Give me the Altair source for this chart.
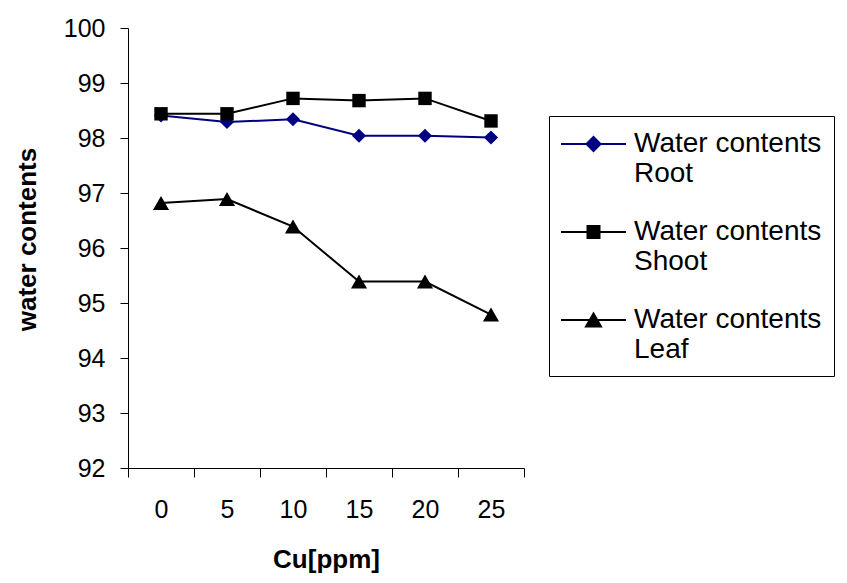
import altair as alt
import pandas as pd

# ---- data ----
cu = ["0", "5", "10", "15", "20", "25"]
root = [98.41, 98.29, 98.34, 98.04, 98.04, 98.01]
shoot = [98.44, 98.44, 98.72, 98.68, 98.72, 98.31]
leaf = [96.82, 96.89, 96.39, 95.39, 95.39, 94.79]
series_names = ["Root", "Shoot", "Leaf"]
series_colors = ["#000080", "#000000", "#000000"]
point_shapes = ["diamond", "square", "triangle-up"]
point_sizes = [200, 180, 260]
y_ticks = [92, 93, 94, 95, 96, 97, 98, 99, 100]

rows = []
for name, vals in zip(series_names, [root, shoot, leaf]):
    for c, v in zip(cu, vals):
        rows.append({"cu": c, "value": v, "series": name})
df = pd.DataFrame(rows)

FONT = "Liberation Sans"

# legend symbols: a line with a (solid-looking) marker on it.
# Unit coordinates are scaled by sqrt(symbolSize)/2 = 15 px.
R = 15.0
HALF_LINE = 32.5


def u(px):
    return round(px / R, 4)


def diamond_path():
    p = f"M-{u(HALF_LINE)},0H{u(HALF_LINE)}"
    for h in [7, 5.5, 4, 2.5, 1]:
        a = u(h)
        p += f"M-{a},0L0,-{a}L{a},0L0,{a}Z"
    return p


def square_path():
    p = f"M-{u(HALF_LINE)},0H{u(HALF_LINE)}"
    for h in [6, 4.5, 3, 1.5, 0.5]:
        a = u(h)
        p += f"M-{a},-{a}H{a}V{a}H-{a}Z"
    return p


def triangle_path():
    p = f"M-{u(HALF_LINE)},0H{u(HALF_LINE)}"
    for f in [1, 0.8, 0.6, 0.4, 0.2]:
        w, h = u(7.5 * f), u(6.5 * f)
        p += f"M0,-{h}L{w},{h}L-{w},{h}Z"
    return p


legend_paths = [diamond_path(), square_path(), triangle_path()]

x_enc = alt.X(
    "cu:O",
    sort=cu,
    scale=alt.Scale(type="band", paddingInner=0, paddingOuter=0),
    axis=alt.Axis(
        title="Cu[ppm]",
        labelAngle=0,
        tickBand="extent",
        tickSize=9,
        labelPadding=20,
        labelFontSize=25,
        labelFont=FONT,
        labelColor="black",
        titleFont=FONT,
        titleFontSize=26,
        titleFontWeight="bold",
        titleColor="black",
        titleBaseline="alphabetic",
        titleY=99,
        domainColor="black",
        tickColor="black",
        grid=False,
    ),
)
y_enc = alt.Y(
    "value:Q",
    scale=alt.Scale(domain=[92, 100], nice=False, zero=False),
    axis=alt.Axis(
        title="water contents",
        values=y_ticks,
        tickSize=8,
        labelPadding=15,
        labelFontSize=25,
        labelFont=FONT,
        labelColor="black",
        titleFont=FONT,
        titleFontSize=26,
        titleFontWeight="bold",
        titleColor="black",
        titleAngle=270,
        titleBaseline="alphabetic",
        titleAlign="center",
        titleX=-93,
        titleY=211,
        domainColor="black",
        tickColor="black",
        grid=False,
    ),
)
color_scale = alt.Scale(domain=series_names, range=series_colors)

base = alt.Chart(df)

line_layers = []
point_layers = []
for name, col, shp, sz in zip(series_names, series_colors, point_shapes, point_sizes):
    sub = base.transform_filter(alt.datum.series == name)
    line_layers.append(sub.mark_line(strokeWidth=2, color=col).encode(x=x_enc, y=y_enc))
    point_layers.append(
        sub.mark_point(shape=shp, filled=True, size=sz, opacity=1, color=col).encode(x=x_enc, y=y_enc)
    )

legend_kw = dict(
    title=None,
    orient="none",
    legendX=421,
    legendY=88,
    strokeColor="black",
    fillColor="white",
    padding=12,
    symbolSize=R * R * 4,
    symbolStrokeWidth=2,
    symbolOpacity=1,
    symbolOffset=16.5,
    labelFont=FONT,
    labelFontSize=28,
    labelColor="black",
    labelLimit=500,
    labelOffset=24.5,
    labelBaseline="middle",
    labelExpr="['Water contents', datum.label]",
    rowPadding=28,
)

legend_layer = base.mark_point(filled=False, opacity=0).encode(
    x=x_enc,
    y=y_enc,
    color=alt.Color("series:N", scale=color_scale, legend=alt.Legend(**legend_kw)),
    shape=alt.Shape(
        "series:N",
        scale=alt.Scale(domain=series_names, range=legend_paths),
        legend=alt.Legend(**legend_kw),
    ),
)

chart = (
    alt.layer(*line_layers, *point_layers, legend_layer)
    .properties(
        width=396,
        height=440,
        padding={"left": 120, "top": 20, "right": 315, "bottom": 107},
        autosize=alt.AutoSizeParams(type="none"),
        background="white",
    )
    .configure_view(stroke=None)
)

chart.save("out.html", embed_options={"renderer": "svg", "actions": False})
